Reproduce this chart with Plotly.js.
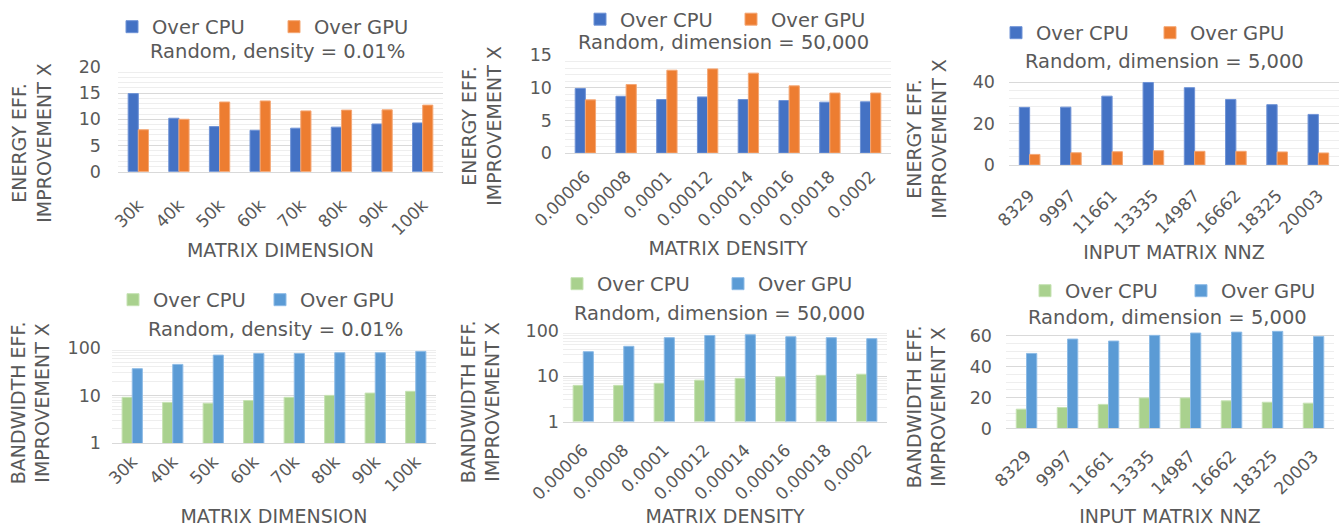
<!DOCTYPE html>
<html><head><meta charset="utf-8">
<script src="https://cdn.plot.ly/plotly-3.0.1.min.js"></script>
<style>html,body{margin:0;padding:0;background:#fff}#chart{width:1343px;height:527px}</style>
</head><body><div id="chart"></div>
<script>
// ---- data ----
const dimCats = ['30k','40k','50k','60k','70k','80k','90k','100k'];
const densCats = ['0.00006','0.00008','0.0001','0.00012','0.00014','0.00016','0.00018','0.0002'];
const nnzCats = ['8329','9997','11661','13335','14987','16662','18325','20003'];

const energyDimCPU = [14.9, 10.2, 8.6, 7.9, 8.3, 8.5, 9.1, 9.3];
const energyDimGPU = [8.0, 10.0, 13.3, 13.5, 11.6, 11.75, 11.8, 12.7];
const energyDensCPU = [9.9, 8.7, 8.2, 8.6, 8.2, 8.05, 7.8, 7.85];
const energyDensGPU = [8.15, 10.5, 12.7, 12.9, 12.25, 10.3, 9.2, 9.2];
const energyNnzCPU = [27.8, 27.9, 33.2, 39.8, 37.3, 31.6, 29.1, 24.4];
const energyNnzGPU = [5.1, 5.9, 6.4, 6.9, 6.6, 6.6, 6.3, 5.8];

const bwDimCPU = [9.2, 7.2, 6.9, 7.9, 9.2, 10.1, 11.3, 12.3];
const bwDimGPU = [36.8, 45.3, 71, 77, 77, 79.7, 79.7, 85];
const bwDensCPU = [6.3, 6.3, 7.0, 8.2, 9.0, 9.7, 10.5, 11.1];
const bwDensGPU = [35, 46, 71.5, 80, 83, 75, 71.5, 68];
const bwNnzCPU = [12.5, 13.6, 15.6, 19.8, 19.8, 17.9, 17.0, 16.4];
const bwNnzGPU = [48.6, 57.9, 56.6, 60.3, 61.8, 62.4, 62.9, 59.6];

const seriesNames = ['Over CPU', 'Over GPU'];
const subtitles = ['Random, density = 0.01%', 'Random, dimension = 50,000', 'Random, dimension = 5,000'];
const xTitles = ['MATRIX DIMENSION', 'MATRIX DENSITY', 'INPUT MATRIX NNZ'];
const yTitles = ['ENERGY EFF.<br>IMPROVEMENT X', 'BANDWIDTH EFF.<br>IMPROVEMENT X'];

// ---- styling / layout ----
const W = 1343, H = 527;
const FONT = '"DejaVu Sans", Verdana, sans-serif';
const TXT = '#595959';
const energyColors = [['#4472C4','#6f93d6'], ['#ED7D31','#f4a775']];
const bwColors = [['#A9D18E','#c6e2b3'], ['#5B9BD5','#8dbbe6']];

const panels = [
  {cats: dimCats,  cpu: energyDimCPU,  gpu: energyDimGPU,  colors: energyColors, px:[118,443],  py:[66,171],     range:[0,20],   dtick:5,  minor:1, log:false, sub:0, yt:0,
   leg:[112,27,117], subPos:[277,51], ytPos:[32,142], yStand:16, xStand:16, xtStand:5},
  {cats: densCats, cpu: energyDensCPU, gpu: energyDensGPU, colors: energyColors, px:[565,891],  py:[54.3,152.3], range:[0,15],   dtick:5,  minor:1, log:false, sub:1, yt:0,
   leg:[580,19,106], subPos:[723,42], ytPos:[482,125], yStand:12, xStand:6, xtStand:12},
  {cats: nnzCats,  cpu: energyNnzCPU,  gpu: energyNnzGPU,  colors: energyColors, px:[1009,1339], py:[72.5,164.3], range:[0,44.2], dtick:20, minor:4, log:false, sub:2, yt:0,
   leg:[996,33,109], subPos:[1164,61], ytPos:[927,138], yStand:13, xStand:13, xtStand:8},
  {cats: dimCats,  cpu: bwDimCPU,      gpu: bwDimGPU,      colors: bwColors,     px:[112,436],  py:[347.7,443],  range:[0,2],    dtick:1,  minor:'D1', log:true, sub:0, yt:1,
   leg:[113,300,102], subPos:[275,329], ytPos:[30,403], yStand:10, xStand:1, xtStand:26},
  {cats: densCats, cpu: bwDensCPU,     gpu: bwDensGPU,     colors: bwColors,     px:[563,887],  py:[330.7,421.3],range:[0,2],    dtick:1,  minor:'D1', log:true, sub:1, yt:1,
   leg:[557,284,116], subPos:[719,313], ytPos:[480,402], yStand:3, xStand:11, xtStand:8},
  {cats: nnzCats,  cpu: bwNnzCPU,      gpu: bwNnzGPU,      colors: bwColors,     px:[1006,1334], py:[328.5,428.3],range:[0,64.5], dtick:20, minor:5, log:false, sub:2, yt:1,
   leg:[1025,291,111], subPos:[1167,317], ytPos:[926,407], yStand:13, xStand:10, xtStand:20}
];

const data = [];
const layout = {
  width: W, height: H,
  margin: {l:0, r:0, t:0, b:0},
  paper_bgcolor: '#fff', plot_bgcolor: 'rgba(0,0,0,0)',
  font: {family: FONT, color: TXT, size: 17},
  barmode: 'group', bargap: 0.5, bargroupgap: 0,
  annotations: [], showlegend: true
};

panels.forEach((p, i) => {
  const n = i === 0 ? '' : String(i + 1);
  const legName = 'legend' + n;
  [p.cpu, p.gpu].forEach((vals, s) => {
    data.push({
      type: 'bar', x: p.cats, y: vals, name: seriesNames[s],
      xaxis: 'x' + n, yaxis: 'y' + n, legend: legName,
      marker: {color: p.colors[s][0], line: {color: p.colors[s][1], width: 1}},
      hoverinfo: 'x+y+name'
    });
  });
  layout['xaxis' + n] = {
    domain: [p.px[0] / W, p.px[1] / W], anchor: 'y' + n, type: 'category',
    showline: true, linecolor: '#D9D9D9', linewidth: 1, ticks: '', showgrid: false,
    tickangle: -45, tickfont: {size: 17, color: TXT}, fixedrange: true,
    ticklabelstandoff: p.xStand,
    title: {text: xTitles[p.sub], font: {size: 19, color: TXT}, standoff: p.xtStand}
  };
  const ya = {
    domain: [1 - p.py[1] / H, 1 - p.py[0] / H], anchor: 'x' + n,
    range: p.range, dtick: p.dtick, showgrid: true, gridcolor: '#D9D9D9', gridwidth: 1,
    zeroline: false, showline: false, ticks: '', fixedrange: true,
    tickfont: {size: 17.5, color: TXT}, ticklabelstandoff: p.yStand,
    minor: {showgrid: true, gridcolor: '#EEEEEE', gridwidth: 1, dtick: p.minor}
  };
  if (p.log) { ya.type = 'log'; ya.tickvals = [1, 10, 100]; ya.ticktext = ['1','10','100']; }
  layout['yaxis' + n] = ya;
  layout[legName] = {
    x: p.leg[0] / W, y: 1 - p.leg[1] / H, xanchor: 'left', yanchor: 'middle',
    orientation: 'h', bgcolor: 'rgba(0,0,0,0)', font: {size: 19.5, color: TXT},
    itemwidth: 30, entrywidth: p.leg[2], itemclick: false, itemdoubleclick: false
  };
  layout.annotations.push({
    xref: 'paper', yref: 'paper', x: p.subPos[0] / W, y: 1 - p.subPos[1] / H,
    xanchor: 'center', yanchor: 'middle', showarrow: false,
    text: subtitles[p.sub], font: {size: 19.5, color: TXT}
  });
  // y-axis title (two lines, rotated), centred like the original
  layout.annotations.push({
    xref: 'paper', yref: 'paper', x: p.ytPos[0] / W, y: 1 - p.ytPos[1] / H,
    xanchor: 'center', yanchor: 'middle', showarrow: false, textangle: -90,
    text: yTitles[p.yt], font: {size: 19, color: TXT}
  });
});

Plotly.newPlot('chart', data, layout, {staticPlot: true, displayModeBar: false});
</script></body></html>
